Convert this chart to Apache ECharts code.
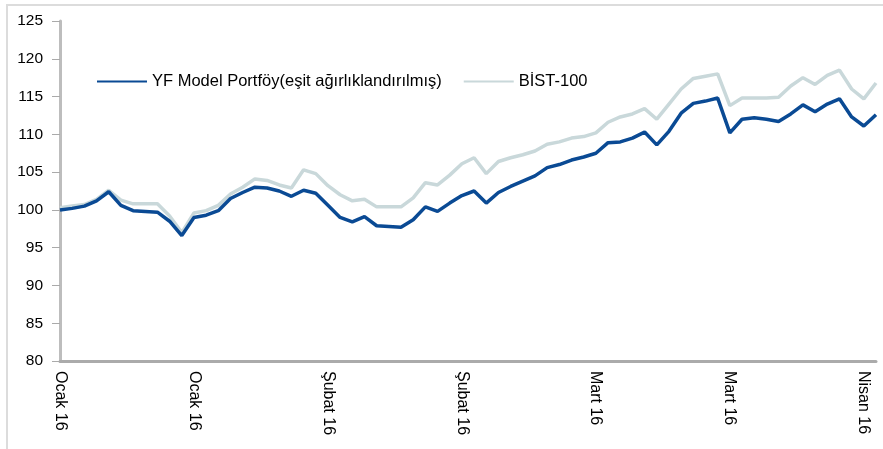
<!DOCTYPE html>
<html>
<head>
<meta charset="utf-8">
<script src="https://cdn.jsdelivr.net/npm/echarts@6/dist/echarts.min.js"></script>
<style>
html,body{margin:0;padding:0;background:#fff;}
#c{width:883px;height:449px;}
</style>
</head>
<body>
<div id="c"></div>
<script>
// Trading days Jan 4 – Apr 6, 2016
const dates = [
 "2016-01-04","2016-01-05","2016-01-06","2016-01-07","2016-01-08",
 "2016-01-11","2016-01-12","2016-01-13","2016-01-14","2016-01-15",
 "2016-01-18","2016-01-19","2016-01-20","2016-01-21","2016-01-22",
 "2016-01-25","2016-01-26","2016-01-27","2016-01-28","2016-01-29",
 "2016-02-01","2016-02-02","2016-02-03","2016-02-04","2016-02-05",
 "2016-02-08","2016-02-09","2016-02-10","2016-02-11","2016-02-12",
 "2016-02-15","2016-02-16","2016-02-17","2016-02-18","2016-02-19",
 "2016-02-22","2016-02-23","2016-02-24","2016-02-25","2016-02-26",
 "2016-02-29","2016-03-01","2016-03-02","2016-03-03","2016-03-04",
 "2016-03-07","2016-03-08","2016-03-09","2016-03-10","2016-03-11",
 "2016-03-14","2016-03-15","2016-03-16","2016-03-17","2016-03-18",
 "2016-03-21","2016-03-22","2016-03-23","2016-03-24","2016-03-25",
 "2016-03-28","2016-03-29","2016-03-30","2016-03-31","2016-04-01",
 "2016-04-04","2016-04-05","2016-04-06"
];
const monthNames = ["Ocak","Şubat","Mart","Nisan"];

const yfModel = [
 100.0,100.2,100.5,101.2,102.4,
 100.6,99.9,99.8,99.7,98.5,
 96.6,99.0,99.3,99.9,101.5,
 102.3,103.0,102.9,102.5,101.8,
 102.6,102.2,100.6,99.0,98.4,
 99.1,97.9,97.8,97.7,98.7,
 100.4,99.8,100.9,101.9,102.5,
 100.9,102.3,103.1,103.8,104.5,
 105.6,106.0,106.6,107.0,107.5,
 108.9,109.0,109.5,110.3,108.6,
 110.4,112.8,114.1,114.4,114.8,
 110.2,112.0,112.2,112.0,111.7,
 112.7,113.9,113.0,114.0,114.7,
 112.3,111.1,112.6
];
const bist100 = [
 100.3,100.5,100.7,101.4,102.6,
 101.3,100.8,100.8,100.8,99.2,
 97.0,99.6,99.9,100.6,102.1,
 103.0,104.1,103.9,103.3,102.9,
 105.3,104.8,103.2,102.0,101.2,
 101.4,100.4,100.4,100.4,101.6,
 103.6,103.3,104.6,106.1,106.9,
 104.8,106.4,106.9,107.3,107.8,
 108.7,109.0,109.5,109.7,110.2,
 111.6,112.3,112.7,113.4,112.0,
 114.0,116.0,117.4,117.7,118.0,
 113.8,114.8,114.8,114.8,114.9,
 116.4,117.5,116.6,117.8,118.5,
 116.0,114.7,116.8
];
const legendNames = ["YF Model Portföy(eşit ağırlıklandırılmış)","BİST-100"];
const yTicks = {min: 80, max: 125, interval: 5};

const chart = echarts.init(document.getElementById('c'), null, {renderer:'canvas'});
chart.setOption({
  animation: false,
  backgroundColor: '#fff',
  textStyle: {fontFamily: 'Liberation Sans, Arial, sans-serif'},
  graphic: [{
    type: 'rect', silent: true, z: -1,
    shape: {x: 7, y: 5, width: 900, height: 470},
    style: {fill: 'none', stroke: '#dcdcdc', lineWidth: 2}
  }],
  legend: {
    data: legendNames,
    left: 92, top: 68,
    itemWidth: 50, itemHeight: 10, itemGap: 22,
    icon: 'path://M0,4 L50,4 L50,6 L0,6 Z',
    textStyle: {fontSize: 16.5, color: '#000', fontFamily: 'Liberation Sans, Arial, sans-serif'}
  },
  grid: {left: 60, top: 21, right: 7, bottom: 88, containLabel: false},
  xAxis: {
    type: 'category',
    data: dates,
    boundaryGap: false,
    axisLine: {lineStyle: {color: '#ababab', width: 3}},
    axisTick: {show: false},
    axisLabel: {
      interval: 10,
      rotate: -90,
      margin: 10,
      fontSize: 16,
      color: '#000',
      formatter: function (v) {
        const m = parseInt(v.slice(5,7), 10);
        return monthNames[m-1] + ' 16';
      }
    },
    splitLine: {show: false}
  },
  yAxis: {
    type: 'value',
    min: yTicks.min, max: yTicks.max, interval: yTicks.interval,
    axisLine: {show: true, lineStyle: {color: '#bdbdbd', width: 3}},
    axisTick: {show: true, inside: false, length: 8, lineStyle: {color: '#aaaaaa', width: 1}},
    axisLabel: {fontSize: 15.5, color: '#000', margin: 17},
    splitLine: {show: false}
  },
  series: [
    {
      name: legendNames[1], type: 'line', data: bist100,
      symbol: 'none', z: 2,
      lineStyle: {color: '#c9d8da', width: 3.5},
      itemStyle: {color: '#c9d8da'}
    },
    {
      name: legendNames[0], type: 'line', data: yfModel,
      symbol: 'none', z: 3,
      lineStyle: {color: '#0a4a94', width: 3.5},
      itemStyle: {color: '#0a4a94'}
    }
  ]
});
</script>
</body>
</html>
